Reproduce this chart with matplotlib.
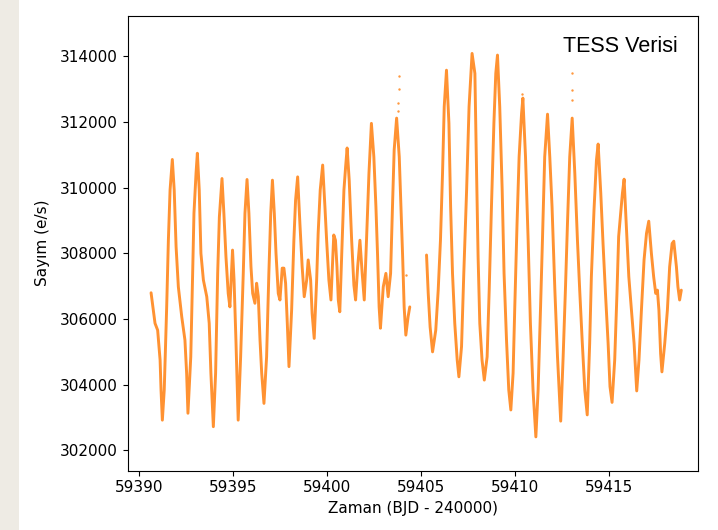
import matplotlib
matplotlib.use("Agg")
import matplotlib.pyplot as plt
from matplotlib.patches import Rectangle

# light curve (two segments, gap near 59405)
t1 = [59390.64, 59390.85, 59390.99, 59391.12, 59391.17, 59391.24, 59391.34, 59391.47, 59391.56, 59391.65,
      59391.77, 59391.87, 59391.97, 59392.09, 59392.27, 59392.44, 59392.53, 59392.60, 59392.75, 59392.85,
      59392.92, 59393.03, 59393.10, 59393.20, 59393.29, 59393.42, 59393.60, 59393.73, 59393.82, 59393.95,
      59394.07, 59394.18, 59394.27, 59394.41, 59394.51, 59394.62, 59394.74, 59394.83, 59394.97, 59395.05,
      59395.15, 59395.27, 59395.40, 59395.54, 59395.63, 59395.74, 59395.84, 59395.95, 59396.04, 59396.16,
      59396.25, 59396.34, 59396.43, 59396.52, 59396.64, 59396.78, 59396.90, 59397.00, 59397.09, 59397.19,
      59397.28, 59397.40, 59397.49, 59397.61, 59397.70, 59397.79, 59397.88, 59397.97, 59398.11, 59398.23,
      59398.32, 59398.43, 59398.55, 59398.67, 59398.78, 59398.91, 59398.99, 59399.12, 59399.20, 59399.31,
      59399.44, 59399.52, 59399.63, 59399.76, 59399.88, 59399.97, 59400.09, 59400.20, 59400.35, 59400.44,
      59400.52, 59400.59, 59400.67, 59400.78, 59400.89, 59400.98, 59401.06, 59401.17, 59401.30, 59401.42,
      59401.51, 59401.62, 59401.74, 59401.86, 59401.97, 59402.09, 59402.22, 59402.35, 59402.48, 59402.59,
      59402.68, 59402.76, 59402.83, 59402.98, 59403.12, 59403.24, 59403.37, 59403.47, 59403.56, 59403.69,
      59403.83, 59403.92, 59404.01, 59404.09, 59404.18, 59404.30, 59404.39]
f1 = [306800, 305870, 305660, 304750, 303840, 302920, 303840, 306370, 308400, 309930,
      310860, 309930, 308200, 306980, 306070, 305360, 304350, 303130, 304850, 307390,
      309220, 310440, 311050, 309930, 308000, 307190, 306680, 305870, 304350, 302720,
      304350, 307390, 309110, 310280, 309220, 307900, 306780, 306370, 308100, 307190,
      305360, 302920, 304850, 307390, 309220, 310250, 309220, 307590, 306780, 306480,
      307090, 306680, 305360, 304350, 303430, 304850, 307390, 309220, 310230, 309220,
      308000, 306780, 306580, 307550, 307550, 307090, 305870, 304550, 306270, 308400,
      309620, 310330, 308910, 307590, 306680, 307190, 307800, 307190, 306170, 305410,
      307190, 308610, 309930, 310690, 309420, 308400, 307190, 306580, 308560, 308400,
      307590, 306580, 306220, 308100, 309930, 310640, 311210, 310230, 308400, 307030,
      306580, 307590, 308400, 307390, 306580, 308400, 310440, 311960, 310940, 309420,
      307900, 306370, 305720, 306980, 307390, 306680, 307390, 309420, 311150, 312120,
      310940, 309420, 307900, 306370, 305510, 306070, 306370]

t2 = [59405.28, 59405.37, 59405.47, 59405.60, 59405.77, 59405.90, 59406.02, 59406.13, 59406.22, 59406.34,
      59406.47, 59406.56, 59406.66, 59406.78, 59406.91, 59407.00, 59407.14, 59407.26, 59407.41, 59407.54,
      59407.70, 59407.85, 59407.94, 59408.02, 59408.11, 59408.23, 59408.35, 59408.50, 59408.61, 59408.73,
      59408.86, 59408.96, 59409.05, 59409.17, 59409.30, 59409.40, 59409.53, 59409.65, 59409.76, 59409.88,
      59409.97, 59410.09, 59410.20, 59410.33, 59410.40, 59410.54, 59410.68, 59410.80, 59410.94, 59411.09,
      59411.21, 59411.34, 59411.44, 59411.56, 59411.71, 59411.83, 59411.95, 59412.10, 59412.24, 59412.41,
      59412.54, 59412.66, 59412.77, 59412.89, 59413.02, 59413.16, 59413.30, 59413.42, 59413.55, 59413.69,
      59413.82, 59413.95, 59414.04, 59414.18, 59414.31, 59414.40, 59414.54, 59414.66, 59414.79, 59414.93,
      59415.03, 59415.14, 59415.28, 59415.40, 59415.49, 59415.58, 59415.69, 59415.78, 59415.90, 59416.03,
      59416.17, 59416.31, 59416.45, 59416.57, 59416.70, 59416.84, 59416.97, 59417.09, 59417.23, 59417.35,
      59417.46, 59417.55, 59417.63, 59417.72, 59417.79, 59417.94, 59418.08, 59418.20, 59418.33, 59418.42,
      59418.56, 59418.64, 59418.73, 59418.82]
f2 = [307950, 306780, 305760, 305000, 305660, 306880, 308400, 310440, 312470, 313580,
      311960, 309420, 307390, 305870, 304750, 304240, 305160, 307390, 309930, 312470,
      314090, 313480, 310440, 307900, 305870, 304750, 304140, 304850, 306880, 309420,
      311960, 313480, 314040, 312470, 309930, 307390, 305360, 303840, 303230, 304350,
      306370, 308910, 310940, 312260, 312730, 310940, 308400, 305870, 303840, 302410,
      303840, 306370, 308400, 310940, 312240, 310940, 309420, 306880, 304850, 302890,
      304850, 306880, 308910, 310940, 312120, 310440, 308400, 306880, 305360, 303840,
      303080, 305260, 307290, 309320, 310840, 311330, 309830, 308300, 306780, 305260,
      303940, 303460, 304750, 306780, 308510, 309110, 309830, 310260, 308810, 307290,
      306270, 305260, 303810, 304750, 306270, 307800, 308610, 308980, 308000, 307290,
      306780, 306880, 306270, 304950, 304390, 305260, 306270, 307590, 308300, 308370,
      307590, 306980, 306580, 306880]

# stray points above two of the maxima
t_out = [59403.74, 59403.77, 59403.81, 59403.81, 59404.18, 59413.01, 59413.03, 59413.03, 59410.36]
f_out = [312340, 312590, 313000, 313400, 307340, 313480, 312970, 312670, 312840]

orange = "#ff7f0e"

fig = plt.figure(figsize=(7.18, 5.30), dpi=100)
fig.patches.append(Rectangle((0, 0), 19 / 718, 1, transform=fig.transFigure,
                             facecolor="#eeebe4", edgecolor="none", zorder=0))
ax = fig.add_axes([0.1779, 0.1119, 0.7938, 0.8585])

for t, f in [(t1, f1), (t2, f2)]:
    ax.plot(t, f, color=orange, lw=2.1, alpha=0.85, solid_joinstyle="round",
            solid_capstyle="round")
ax.scatter(t_out, f_out, s=3, color=orange, alpha=0.8, linewidths=0)

ax.set_xlim(59389.40, 59419.69)
ax.set_ylim(301380, 315240)
ax.set_xticks([59390, 59395, 59400, 59405, 59410, 59415])
ax.set_yticks([302000, 304000, 306000, 308000, 310000, 312000, 314000])
ax.ticklabel_format(useOffset=False, style="plain")
ax.tick_params(labelsize=11)

ax.set_xlabel("Zaman (BJD - 240000)", fontsize=11)
ax.set_ylabel("Sayım (e/s)", fontsize=11, labelpad=7.5)

ax.text(0.9654, 0.932, "TESS Verisi", transform=ax.transAxes, ha="right", va="center",
        fontsize=15.5, family="Liberation Sans")

fig.savefig("out.png", dpi=100)
